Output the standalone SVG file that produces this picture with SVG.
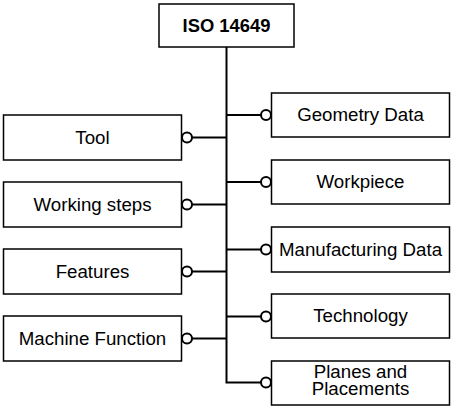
<svg xmlns="http://www.w3.org/2000/svg" width="452" height="408" viewBox="0 0 452 408">
<style>
.box{fill:#fff;stroke:#000;stroke-width:1.5}
.t{font-family:"Liberation Sans",Arial,sans-serif;font-size:18.7px;text-anchor:middle;fill:#000}
.b{font-weight:bold;font-size:18.4px}
.c{fill:none;stroke:#000;stroke-width:2}
.o{fill:#fff;stroke:#000;stroke-width:2}
</style>
<rect width="452" height="408" fill="#fff"/>
<g id="connectors">
<path class="c" d="M226.5 47V382.5H261"/>
<path class="c" d="M192 137.5H226.5M192 204.5H226.5M192 271.5H226.5M192 338.5H226.5"/>
<path class="c" d="M226.5 115H261M226.5 182H261M226.5 249.5H261M226.5 316.5H261"/>
<circle class="o" cx="187" cy="137.5" r="5"/>
<circle class="o" cx="187" cy="204.5" r="5"/>
<circle class="o" cx="187" cy="271.5" r="5"/>
<circle class="o" cx="187" cy="338.5" r="5"/>
<circle class="o" cx="266" cy="115" r="5"/>
<circle class="o" cx="266" cy="182" r="5"/>
<circle class="o" cx="266" cy="249.5" r="5"/>
<circle class="o" cx="266" cy="316.5" r="5"/>
<circle class="o" cx="266" cy="382.5" r="5"/>
</g>
<g id="iso"><rect class="box" x="159" y="4" width="135" height="43" stroke-width="2"/><text class="t b" x="226.5" y="32">ISO 14649</text></g>
<g id="tool"><rect class="box" x="3.5" y="115" width="178" height="45"/><text class="t" x="92.5" y="143.5">Tool</text></g>
<g id="working-steps"><rect class="box" x="3.5" y="182" width="178" height="45"/><text class="t" x="92.5" y="210.5">Working steps</text></g>
<g id="features"><rect class="box" x="3.5" y="249" width="178" height="45"/><text class="t" x="92.5" y="277.5">Features</text></g>
<g id="machine-function"><rect class="box" x="3.5" y="316" width="178" height="45"/><text class="t" x="92.5" y="344.5">Machine Function</text></g>
<g id="geometry-data"><rect class="box" x="271.5" y="93" width="178" height="44"/><text class="t" x="360.5" y="121">Geometry Data</text></g>
<g id="workpiece"><rect class="box" x="271.5" y="160" width="178" height="44"/><text class="t" x="360.5" y="188">Workpiece</text></g>
<g id="manufacturing-data"><rect class="box" x="271.5" y="227" width="178" height="45"/><text class="t" x="360.5" y="255.5">Manufacturing Data</text></g>
<g id="technology"><rect class="box" x="271.5" y="294" width="178" height="44"/><text class="t" x="360.5" y="322">Technology</text></g>
<g id="planes-and-placements"><rect class="box" x="271.5" y="361" width="178" height="44"/><text class="t" x="360.5" y="378"><tspan x="360.5" y="378">Planes and</tspan><tspan x="360.5" y="395">Placements</tspan></text></g>
</svg>
